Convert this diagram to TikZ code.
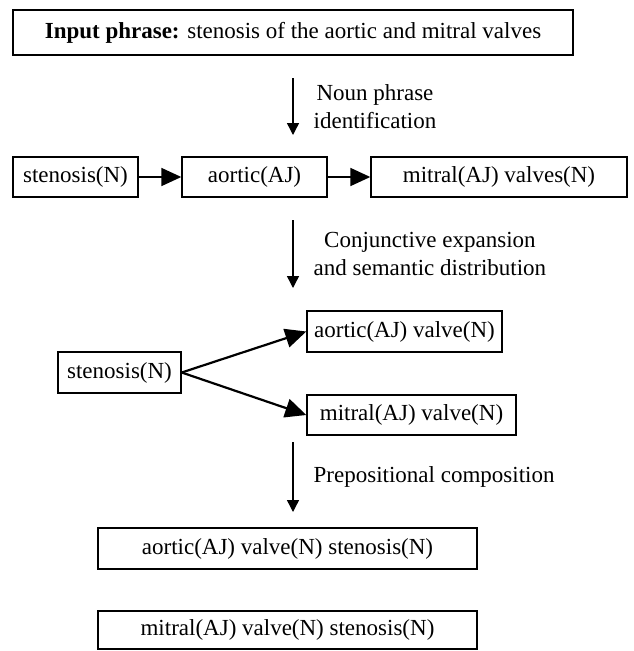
\documentclass[tikz,border=0pt]{standalone}
\usepackage{fontspec}
\setmainfont{Liberation Serif}
\usetikzlibrary{arrows.meta, positioning, calc}

\begin{document}
\begin{tikzpicture}[
    x=1pt, y=-1pt,
    font=\fontsize{23}{28}\selectfont,
    box/.style={draw, line width=1.4pt, minimum height=40pt, inner sep=0pt},
    flow arrow/.style={draw, line width=1.8pt, -{Triangle[length=20pt, width=18pt]}},
    split arrow/.style={draw, line width=2.2pt, -{Triangle[length=21pt, width=19pt]}},
    down arrow/.style={draw, line width=1.4pt, -{Triangle[length=12pt, width=12pt]}},
    note/.style={align=center, inner sep=0pt}
]
    \useasboundingbox (0,0) rectangle (633,651);

    % Input phrase
    \node[box, minimum width=560pt, minimum height=45pt] (input) at (293,32.5)
        {\textbf{Input phrase:} stenosis of the aortic and mitral valves};

    % Noun phrase chain
    \node[box, minimum width=125pt] (st1) at (75.5,177) {stenosis(N)};
    \node[box, minimum width=145pt] (ao1) at (254.5,177) {aortic(AJ)};
    \node[box, minimum width=256pt] (mi1) at (499,177) {mitral(AJ) valves(N)};

    % Distributed phrases
    \node[box, minimum width=123pt, minimum height=41pt] (st2) at (119.5,372.5) {stenosis(N)};
    \node[box, minimum width=195pt, minimum height=41pt] (ao2) at (404.5,331.5) {aortic(AJ) valve(N)};
    \node[box, minimum width=209pt] (mi2) at (411.5,415) {mitral(AJ) valve(N)};

    % Composed terms
    \node[box, minimum width=379pt, minimum height=41pt] (res1) at (287.5,548.5) {aortic(AJ) valve(N) stenosis(N)};
    \node[box, minimum width=379pt, minimum height=38pt] (res2) at (287.5,630) {mitral(AJ) valve(N) stenosis(N)};

    % Step arrows
    \coordinate (d1 top) at (293,78);
    \coordinate (d1 end) at (293,135);
    \coordinate (d2 top) at (293,220);
    \coordinate (d2 end) at (293,288);
    \coordinate (d3 top) at (293,442);
    \coordinate (d3 end) at (293,512);

    \path[down arrow] (d1 top) -- (d1 end)
        node[midway, right=20pt, note] {Noun phrase\\identification};
    \path[down arrow] (d2 top) -- (d2 end)
        node[midway, right=20pt, note] {Conjunctive expansion\\and semantic distribution};
    \path[down arrow] (d3 top) -- (d3 end)
        node[midway, right=20pt, note] {Prepositional composition};

    % Links between phrases
    \path[flow arrow] (st1) -- (ao1);
    \path[flow arrow] (ao1) -- (mi1);
    \path[split arrow] (st2.east) -- (ao2.west);
    \path[split arrow] (st2.east) -- (mi2.west);

\end{tikzpicture}
\end{document}
